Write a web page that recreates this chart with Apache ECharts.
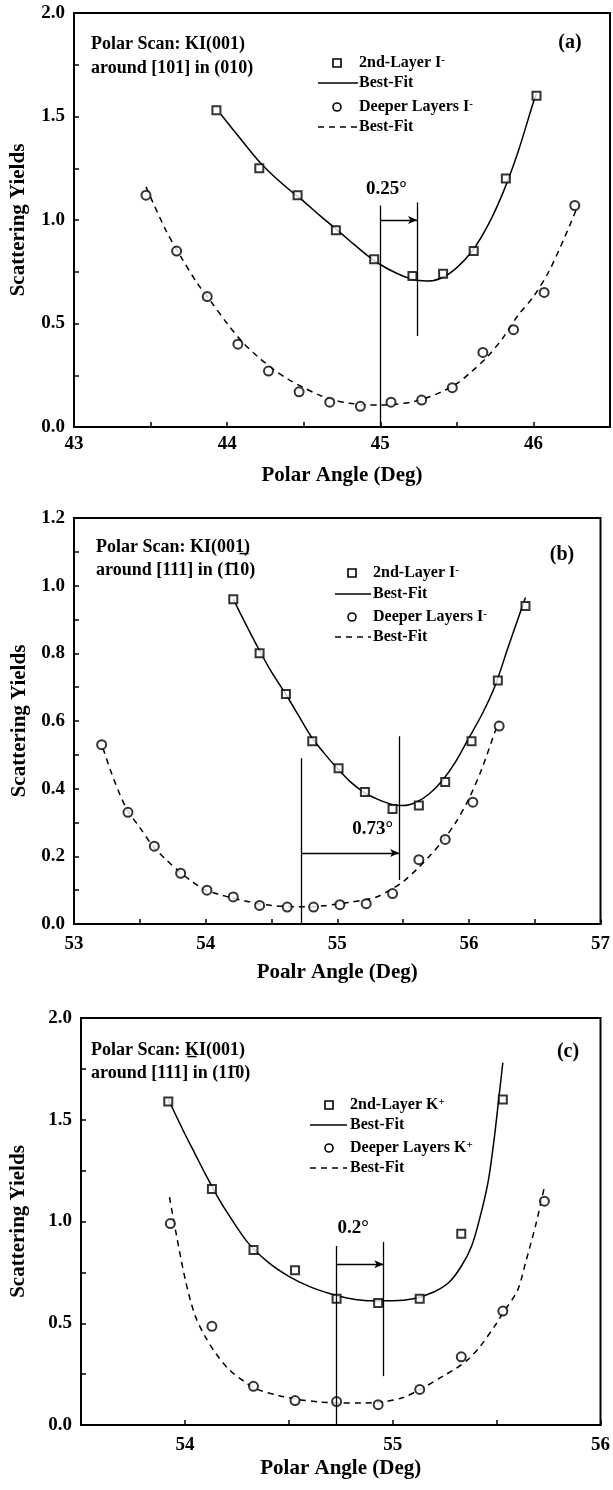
<!DOCTYPE html>
<html>
<head>
<meta charset="utf-8">
<script src="https://cdn.jsdelivr.net/npm/echarts@6/dist/echarts.min.js"></script>
<style>
html,body{margin:0;padding:0;background:#fff;}
#c{width:613px;height:1490px;}
</style>
</head>
<body>
<div id="c"></div>
<script>
// ---------- Panel (a) ----------
const a_layer2_x = [43.93, 44.21, 44.46, 44.71, 44.96, 45.21, 45.41, 45.61, 45.82, 46.02];
const a_layer2_y = [1.53, 1.25, 1.12, 0.95, 0.81, 0.73, 0.74, 0.85, 1.20, 1.60];
const a_fit2_x = [43.96, 44.1, 44.2, 44.3, 44.4, 44.5, 44.6, 44.7, 44.8, 44.9, 45.0, 45.1, 45.2, 45.3, 45.4, 45.5, 45.6, 45.7, 45.8, 45.9, 46.0, 46.02];
const a_fit2_y = [1.51, 1.38, 1.29, 1.215, 1.15, 1.09, 1.025, 0.963, 0.90, 0.838, 0.785, 0.745, 0.716, 0.705, 0.72, 0.77, 0.85, 0.97, 1.13, 1.33, 1.57, 1.61];
const a_deep_x = [43.47, 43.67, 43.87, 44.07, 44.27, 44.47, 44.67, 44.87, 45.07, 45.27, 45.47, 45.67, 45.87, 46.07, 46.27];
const a_deep_y = [1.12, 0.85, 0.63, 0.40, 0.27, 0.17, 0.12, 0.10, 0.12, 0.13, 0.19, 0.36, 0.47, 0.65, 1.07];
const a_fitD_x = [43.47, 43.6, 43.7, 43.8, 43.9, 44.0, 44.1, 44.2, 44.3, 44.4, 44.5, 44.6, 44.7, 44.8, 44.9, 45.0, 45.1, 45.2, 45.3, 45.4, 45.5, 45.6, 45.7, 45.8, 45.9, 46.0, 46.1, 46.2, 46.28];
const a_fitD_y = [1.16, 0.95, 0.82, 0.70, 0.60, 0.50, 0.41, 0.34, 0.28, 0.23, 0.19, 0.155, 0.13, 0.115, 0.107, 0.106, 0.11, 0.12, 0.14, 0.17, 0.21, 0.27, 0.34, 0.43, 0.54, 0.63, 0.75, 0.91, 1.05];
const a_shift = {x1: 45.0, x2: 45.24, y1top: 1.07, y2top: 1.085, y2bot: 0.44, arrowY: 1.0, labelX: 45.04, labelY: 1.15, label: '0.25°'};

// ---------- Panel (b) ----------
const b_layer2_x = [54.21, 54.41, 54.61, 54.81, 55.01, 55.21, 55.42, 55.62, 55.82, 56.02, 56.22, 56.43];
const b_layer2_y = [0.96, 0.80, 0.68, 0.54, 0.46, 0.39, 0.34, 0.35, 0.42, 0.54, 0.72, 0.94];
const b_fit2_x = [54.21, 54.3, 54.4, 54.5, 54.6, 54.7, 54.8, 54.9, 55.0, 55.1, 55.2, 55.3, 55.4, 55.47, 55.5, 55.6, 55.7, 55.8, 55.9, 56.0, 56.1, 56.2, 56.3, 56.43];
const b_fit2_y = [0.96, 0.89, 0.815, 0.745, 0.685, 0.62, 0.555, 0.505, 0.46, 0.42, 0.39, 0.37, 0.355, 0.35, 0.35, 0.36, 0.385, 0.425, 0.48, 0.55, 0.62, 0.705, 0.82, 0.965];
const b_deep_x = [53.21, 53.41, 53.61, 53.81, 54.01, 54.21, 54.41, 54.62, 54.82, 55.02, 55.22, 55.42, 55.62, 55.82, 56.03, 56.23];
const b_deep_y = [0.53, 0.33, 0.23, 0.15, 0.10, 0.08, 0.055, 0.05, 0.05, 0.057, 0.06, 0.09, 0.19, 0.25, 0.36, 0.585];
const b_fitD_x = [53.22, 53.3, 53.4, 53.5, 53.6, 53.7, 53.8, 53.9, 54.0, 54.1, 54.2, 54.3, 54.4, 54.5, 54.6, 54.7, 54.8, 54.9, 55.0, 55.1, 55.2, 55.3, 55.4, 55.5, 55.6, 55.7, 55.8, 55.9, 56.0, 56.1, 56.2, 56.23];
const b_fitD_y = [0.52, 0.43, 0.34, 0.285, 0.23, 0.19, 0.155, 0.125, 0.10, 0.088, 0.077, 0.068, 0.06, 0.055, 0.052, 0.051, 0.051, 0.054, 0.059, 0.064, 0.071, 0.08, 0.10, 0.125, 0.16, 0.20, 0.245, 0.30, 0.37, 0.46, 0.57, 0.60];
const b_shift = {x1: 54.73, x2: 55.47, y1top: 0.49, y2top: 0.555, y2bot: 0.13, arrowY: 0.21, labelX: 55.27, labelY: 0.28, label: '0.73°'};

// ---------- Panel (c) ----------
const c_layer2_x = [53.92, 54.13, 54.33, 54.53, 54.73, 54.93, 55.13, 55.33, 55.53];
const c_layer2_y = [1.59, 1.16, 0.86, 0.76, 0.62, 0.60, 0.62, 0.94, 1.60];
const c_fit2_x = [53.92, 54.0, 54.05, 54.1, 54.15, 54.2, 54.3, 54.4, 54.5, 54.6, 54.7, 54.8, 54.9, 55.0, 55.1, 55.2, 55.27, 55.33, 55.38, 55.42, 55.46, 55.49, 55.51, 55.53];
const c_fit2_y = [1.60, 1.43, 1.33, 1.23, 1.135, 1.05, 0.90, 0.80, 0.73, 0.68, 0.645, 0.62, 0.61, 0.61, 0.62, 0.655, 0.70, 0.78, 0.88, 1.02, 1.20, 1.42, 1.60, 1.78];
const c_deep_x = [53.93, 54.13, 54.33, 54.53, 54.73, 54.93, 55.13, 55.33, 55.53, 55.73];
const c_deep_y = [0.99, 0.485, 0.19, 0.12, 0.115, 0.10, 0.175, 0.335, 0.56, 1.10];
const c_fitD_x = [53.926, 53.958, 54.005, 54.05, 54.1, 54.15, 54.21, 54.29, 54.35, 54.45, 54.55, 54.65, 54.75, 54.85, 54.95, 55.05, 55.15, 55.25, 55.3, 55.36, 55.42, 55.5, 55.53, 55.6, 55.64, 55.69, 55.73];
const c_fitD_y = [1.12, 0.94, 0.70, 0.535, 0.43, 0.35, 0.275, 0.21, 0.175, 0.145, 0.125, 0.113, 0.108, 0.108, 0.113, 0.135, 0.185, 0.245, 0.275, 0.32, 0.385, 0.50, 0.55, 0.66, 0.80, 0.99, 1.17];
const c_shift = {x1: 54.73, x2: 54.955, y1top: 0.88, y2top: 0.90, y2bot: 0.24, arrowY: 0.79, labelX: 54.81, labelY: 0.97, label: '0.2°'};

// ---------- Axes / text ----------
const xTitles = ['Polar Angle (Deg)', 'Poalr Angle (Deg)', 'Polar Angle (Deg)'];
const yTitle = 'Scattering Yields';
const panelTags = ['(a)', '(b)', '(c)'];
const scanLine1 = ['Polar Scan: KI(001)', 'Polar Scan: KI(001\u0332)', 'Polar Scan: K\u0332I(001)'];
const scanLine2 = ['around [101] in (010)', 'around [111] in (1\u030410)', 'around [111] in (11\u03040)'];
const legendIon = ['I', 'I', 'K'];
const legendSign = ['-', '-', '+'];

const FONT = '"Liberation Serif", "Times New Roman", serif';
const zip = (xs, ys) => xs.map((x, i) => [x, ys[i]]);

const grids = [
  {left: 73, top: 13, width: 539, height: 414},
  {left: 74, top: 518, width: 528, height: 406},
  {left: 74, top: 1018, width: 528, height: 407}
];
const xRanges = [[43, 46.5, 0.5], [53, 57, 0.5], [53.5, 56, 0.5]];
const yRanges = [[0, 2, 0.25, 0.5], [0, 1.2, 0.1, 0.2], [0, 2, 0.25, 0.5]];
const xNameGap = [38, 38, 33];
const xLabelMargin = [8, 11, 11];
const yNameGap = [45, 43, 52];

const chart = echarts.init(document.getElementById('c'), null, {renderer: 'canvas'});

const xAxes = grids.map((g, i) => ({
  type: 'value', gridIndex: i, min: xRanges[i][0], max: xRanges[i][1], interval: xRanges[i][2],
  name: xTitles[i], nameLocation: 'middle', nameGap: xNameGap[i],
  nameTextStyle: {fontFamily: FONT, fontWeight: 'bold', fontSize: 21, color: '#000'},
  axisLine: {show: true, onZero: false, lineStyle: {color: '#000', width: 2}},
  axisTick: {show: true, inside: true, length: 5, lineStyle: {color: '#000', width: 1.5}},
  axisLabel: {
    margin: xLabelMargin[i], fontFamily: FONT, fontWeight: 'bold', fontSize: 19, color: '#000',
    showMinLabel: true, showMaxLabel: true,
    formatter: v => Math.abs(v - Math.round(v)) < 1e-6 ? String(Math.round(v)) : ''
  },
  splitLine: {show: false}
}));

const yAxes = grids.map((g, i) => ({
  type: 'value', gridIndex: i, min: yRanges[i][0], max: yRanges[i][1], interval: yRanges[i][2],
  name: yTitle, nameLocation: 'middle', nameGap: yNameGap[i], nameRotate: 90,
  nameTextStyle: {fontFamily: FONT, fontWeight: 'bold', fontSize: 21, color: '#000'},
  axisLine: {show: true, onZero: false, lineStyle: {color: '#000', width: 2}},
  axisTick: {show: true, inside: true, length: 5, lineStyle: {color: '#000', width: 1.5}},
  axisLabel: {
    margin: 9, fontFamily: FONT, fontWeight: 'bold', fontSize: 19, color: '#000',
    showMinLabel: true, showMaxLabel: true,
    formatter: v => {
      const k = v / yRanges[i][3];
      return Math.abs(k - Math.round(k)) < 1e-6 ? v.toFixed(1) : '';
    }
  },
  splitLine: {show: false}
}));

const panels = [
  {l2x: a_layer2_x, l2y: a_layer2_y, f2x: a_fit2_x, f2y: a_fit2_y, dx: a_deep_x, dy: a_deep_y, fdx: a_fitD_x, fdy: a_fitD_y, s: a_shift},
  {l2x: b_layer2_x, l2y: b_layer2_y, f2x: b_fit2_x, f2y: b_fit2_y, dx: b_deep_x, dy: b_deep_y, fdx: b_fitD_x, fdy: b_fitD_y, s: b_shift},
  {l2x: c_layer2_x, l2y: c_layer2_y, f2x: c_fit2_x, f2y: c_fit2_y, dx: c_deep_x, dy: c_deep_y, fdx: c_fitD_x, fdy: c_fitD_y, s: c_shift}
];

const series = [];
panels.forEach((p, i) => {
  const s = p.s;
  series.push({
    type: 'line', xAxisIndex: i, yAxisIndex: i, data: zip(p.f2x, p.f2y),
    showSymbol: false, symbol: 'none', smooth: 0.3, z: 2, silent: true,
    lineStyle: {color: '#000', width: 1.5}
  });
  series.push({
    type: 'line', xAxisIndex: i, yAxisIndex: i, data: zip(p.fdx, p.fdy),
    showSymbol: false, symbol: 'none', smooth: 0.3, z: 2, silent: true,
    lineStyle: {color: '#000', width: 1.5, type: [6, 5]}
  });
  series.push({
    type: 'scatter', xAxisIndex: i, yAxisIndex: i, data: zip(p.l2x, p.l2y),
    symbol: 'emptyRect', symbolSize: 8, z: 4, silent: true,
    itemStyle: {color: '#000', borderWidth: 1.5},
    markLine: {
      silent: true, symbol: 'none', animation: false,
      lineStyle: {color: '#000', type: 'solid', width: 1.3},
      label: {show: false},
      data: [
        [{coord: [s.x1, 0]}, {coord: [s.x1, s.y1top]}],
        [{coord: [s.x2, s.y2top]}, {coord: [s.x2, s.y2bot]}],
        [{coord: [s.x1, s.arrowY], symbol: 'none'}, {coord: [s.x2, s.arrowY], symbol: 'arrow', symbolSize: [6, 9]}]
      ]
    },
    markPoint: {
      silent: true, animation: false,
      symbol: 'circle', symbolSize: 1, itemStyle: {color: 'rgba(0,0,0,0)'},
      label: {show: true, position: 'inside', formatter: s.label, fontFamily: FONT, fontWeight: 'bold', fontSize: 19, color: '#000'},
      data: [{coord: [s.labelX, s.labelY]}]
    }
  });
  series.push({
    type: 'scatter', xAxisIndex: i, yAxisIndex: i, data: zip(p.dx, p.dy),
    symbol: 'emptyCircle', symbolSize: 9, z: 4, silent: true,
    itemStyle: {color: '#000', borderWidth: 1.4}
  });
});

// ---------- overlay text & legends (pixel layout) ----------
const scanPos = [[91, 44, 68], [96, 547, 570], [91, 1050, 1073]];
const tagPos = [[570, 43], [562, 555], [568, 1052]];
const legendPos = [
  {sx: 337, lx1: 318, lx2: 358, tx: 359, rows: [63, 83, 107, 127]},
  {sx: 352, lx1: 335, lx2: 371, tx: 373, rows: [573, 594, 617, 637]},
  {sx: 329, lx1: 310, lx2: 347, tx: 350, rows: [1105, 1125, 1148, 1168]}
];

const graphic = [];
const txtStyle = (size) => ({font: 'bold ' + size + 'px ' + FONT, fill: '#000', verticalAlign: 'middle'});
for (let i = 0; i < 3; i++) {
  const sp = scanPos[i];
  graphic.push({type: 'text', x: sp[0], y: sp[1], style: Object.assign({text: scanLine1[i], align: 'left'}, txtStyle(18))});
  graphic.push({type: 'text', x: sp[0], y: sp[2], style: Object.assign({text: scanLine2[i], align: 'left'}, txtStyle(18))});
  graphic.push({type: 'text', x: tagPos[i][0], y: tagPos[i][1], style: Object.assign({text: panelTags[i], align: 'center'}, txtStyle(20))});
  const L = legendPos[i];
  const r = L.rows;
  graphic.push({type: 'rect', shape: {x: L.sx - 4, y: r[0] - 4, width: 8, height: 8}, style: {fill: '#fff', stroke: '#000', lineWidth: 1.6}});
  graphic.push({type: 'line', shape: {x1: L.lx1, y1: r[1], x2: L.lx2, y2: r[1]}, style: {stroke: '#000', lineWidth: 1.6}});
  graphic.push({type: 'circle', shape: {cx: L.sx, cy: r[2], r: 4}, style: {fill: '#fff', stroke: '#000', lineWidth: 1.6}});
  graphic.push({type: 'line', shape: {x1: L.lx1, y1: r[3], x2: L.lx2, y2: r[3]}, style: {stroke: '#000', lineWidth: 1.6, lineDash: [6, 5]}});
  const rich = {sup: {font: 'bold 11px ' + FONT, fill: '#000', verticalAlign: 'top', padding: [0, 0, 6, 0]}};
  graphic.push({type: 'text', x: L.tx, y: r[0], style: Object.assign({text: '2nd-Layer ' + legendIon[i] + '{sup|' + legendSign[i] + '}', align: 'left', rich: rich}, txtStyle(16))});
  graphic.push({type: 'text', x: L.tx, y: r[1], style: Object.assign({text: 'Best-Fit', align: 'left'}, txtStyle(16))});
  graphic.push({type: 'text', x: L.tx, y: r[2], style: Object.assign({text: 'Deeper Layers ' + legendIon[i] + '{sup|' + legendSign[i] + '}', align: 'left', rich: rich}, txtStyle(16))});
  graphic.push({type: 'text', x: L.tx, y: r[3], style: Object.assign({text: 'Best-Fit', align: 'left'}, txtStyle(16))});
}

chart.setOption({
  animation: false,
  backgroundColor: '#fff',
  grid: grids.map(g => Object.assign({show: true, borderColor: '#000', borderWidth: 2, backgroundColor: 'transparent', containLabel: false}, g)),
  xAxis: xAxes,
  yAxis: yAxes,
  series: series,
  graphic: graphic
});
</script>
</body>
</html>
